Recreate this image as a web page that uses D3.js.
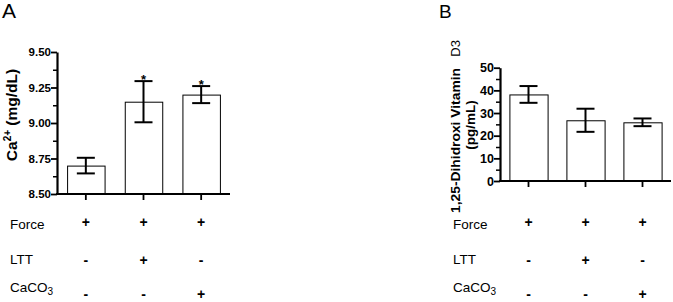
<!DOCTYPE html>
<html>
<head>
<meta charset="utf-8">
<script src="https://cdn.jsdelivr.net/npm/d3@7"></script>
<style>
  body { margin: 0; background: #fff; }
  text { font-family: "Liberation Sans", Arial, sans-serif; }
</style>
</head>
<body>
<script>
// groups (one bar each)
var groups = [0, 1, 2]

// panel A: serum calcium
var caMean = [8.70, 9.15, 9.20]
var caErr = [0.055, 0.145, 0.06]
var caStar = [false, true, true]
var caTicks = [8.50, 8.75, 9.00, 9.25, 9.50]

// panel B: 1,25-dihydroxy vitamin D3
var vdMean = [38.2, 26.8, 25.9]
var vdErr = [3.7, 5.1, 1.7]
var vdTicks = [0, 10, 20, 30, 40, 50]

// treatment table under each panel
var rowNames = ["Force", "LTT", "CaCO3"]
var rowSigns = [["+", "+", "+"], ["-", "+", "-"], ["-", "-", "+"]]

var svg = d3.select("body").append("svg")
    .attr("width", 673)
    .attr("height", 302)

function panel(opts) {
  var g = svg.append("g")

  var yScale = d3.scaleLinear()
      .domain(opts.domain)
      .range([opts.bottom, opts.top])

  var xScale = d3.scaleBand()
      .domain(groups)
      .range([opts.left, opts.right])
      .paddingInner(opts.pad)
      .paddingOuter(opts.pad / 2)

  var cx = function(i) { return xScale(i) + xScale.bandwidth() / 2 }

  // minor ticks
  var minor = []
  for (var i = 0; i < opts.ticks.length - 1; i++) {
    minor.push((opts.ticks[i] + opts.ticks[i + 1]) / 2)
  }
  g.append("g")
      .attr("transform", "translate(" + opts.left + ",0)")
      .call(d3.axisLeft(yScale).tickValues(minor).tickSize(4).tickFormat(""))
      .call(function(a) { a.select(".domain").remove() })
      .selectAll("line").attr("stroke-width", 1.5)

  var yAxis = g.append("g")
      .attr("transform", "translate(" + opts.left + ",0)")
      .call(d3.axisLeft(yScale).tickValues(opts.ticks).tickSize(6)
            .tickSizeOuter(0).tickFormat(opts.fmt))
  yAxis.select(".domain").attr("stroke-width", 2.2)
  yAxis.selectAll(".tick line").attr("stroke-width", 1.8)
  yAxis.selectAll("text")
      .attr("font-size", opts.tickSize)
      .attr("font-weight", "bold")
      .attr("x", -6)
      .attr("fill", "#000")

  // bars
  g.selectAll(".bar")
      .data(opts.mean)
      .enter().append("rect")
        .attr("class", "bar")
        .attr("x", function(d, i) { return xScale(i) + 0.5 })
        .attr("y", function(d) { return yScale(d) + 0.5 })
        .attr("width", xScale.bandwidth())
        .attr("height", function(d) { return opts.bottom - yScale(d) })
        .attr("fill", "#fff")
        .attr("stroke", "#000")
        .attr("stroke-width", 1)

  // error bars
  var eb = g.selectAll(".err")
      .data(opts.mean)
      .enter().append("g")
        .attr("class", "err")
        .attr("stroke", "#000")
        .attr("stroke-width", 2)
  eb.append("line")
      .attr("x1", function(d, i) { return cx(i) })
      .attr("x2", function(d, i) { return cx(i) })
      .attr("y1", function(d, i) { return yScale(d + opts.err[i]) })
      .attr("y2", function(d, i) { return yScale(d - opts.err[i]) })
  ;[1, -1].forEach(function(s) {
    eb.append("line")
        .attr("x1", function(d, i) { return cx(i) - 9 })
        .attr("x2", function(d, i) { return cx(i) + 9 })
        .attr("y1", function(d, i) { return yScale(d + s * opts.err[i]) })
        .attr("y2", function(d, i) { return yScale(d + s * opts.err[i]) })
  })

  // x axis
  var xAxis = g.append("g")
      .attr("transform", "translate(0," + opts.bottom + ")")
      .call(d3.axisBottom(xScale).tickSize(6).tickSizeOuter(0).tickFormat(""))
  xAxis.select(".domain")
      .attr("d", "M" + (opts.left - 1) + ",0H" + opts.right)
      .attr("stroke-width", 2)
  xAxis.selectAll(".tick line").attr("stroke-width", 1.8)

  // significance marks
  if (opts.star) {
    var starIdx = groups.filter(function(i) { return opts.star[i] })
    g.selectAll(".star")
        .data(starIdx)
        .enter().append("text")
          .attr("x", function(i) { return cx(i) })
          .attr("y", function(i) { return yScale(opts.mean[i] + opts.err[i]) + 3 })
          .attr("text-anchor", "middle")
          .attr("font-size", 13)
          .attr("font-weight", "bold")
          .text("*")
  }

  // treatment table
  var rowY = [229, 264, 292]
  var signY = [226.5, 265, 299]
  rowNames.forEach(function(name, r) {
    var t = g.append("text")
        .attr("x", opts.rowX)
        .attr("y", rowY[r])
        .attr("font-size", 13.5)
    if (name == "CaCO3") {
      t.append("tspan").text("CaCO")
      t.append("tspan").attr("font-size", 10).attr("dy", 3).text("3")
    } else {
      t.text(name)
    }
    g.selectAll(".sign" + r)
        .data(rowSigns[r])
        .enter().append("text")
          .attr("x", function(d, i) { return cx(i) })
          .attr("y", signY[r])
          .attr("text-anchor", "middle")
          .attr("font-size", 14)
          .attr("font-weight", "bold")
          .text(function(d) { return d })
  })

  // panel letter
  g.append("text")
      .attr("x", opts.letterX)
      .attr("y", 18)
      .attr("font-size", opts.letterSize)
      .text(opts.letter)

  return g
}

var gA = panel({
  domain: [8.5, 9.5], top: 52, bottom: 194,
  left: 57, right: 230, pad: 0.35,
  ticks: caTicks, fmt: d3.format(".2f"), tickSize: 11.5,
  mean: caMean, err: caErr, star: caStar,
  rowX: 10, letter: "A", letterX: 2, letterSize: 21
})

var gB = panel({
  domain: [0, 50], top: 67.7, bottom: 181,
  left: 500, right: 671, pad: 0.33,
  ticks: vdTicks, fmt: d3.format("d"), tickSize: 12.5,
  mean: vdMean, err: vdErr, star: null,
  rowX: 453, letter: "B", letterX: 439, letterSize: 19
})

// y axis titles
var labA = gA.append("text")
    .attr("transform", "translate(17,115) rotate(-90)")
    .attr("text-anchor", "middle")
    .attr("font-size", 15.5)
    .attr("font-weight", "bold")
labA.append("tspan").text("Ca")
labA.append("tspan").attr("font-size", 10).attr("dy", -6).text("2+")
labA.append("tspan").attr("dy", 6).text(" (mg/dL)")

gB.append("text")
    .attr("transform", "translate(460,213) rotate(-90)")
    .attr("font-size", 13)
    .attr("font-weight", "bold")
    .attr("textLength", 145)
    .attr("lengthAdjust", "spacingAndGlyphs")
    .text("1,25-Dihidroxi Vitamin")

gB.append("text")
    .attr("transform", "translate(460,40) rotate(-90)")
    .attr("text-anchor", "end")
    .attr("font-size", 13)
    .text("D3")

gB.append("text")
    .attr("transform", "translate(475,125) rotate(-90)")
    .attr("text-anchor", "middle")
    .attr("font-size", 13.5)
    .attr("font-weight", "bold")
    .text("(pg/mL)")
</script>
</body>
</html>
